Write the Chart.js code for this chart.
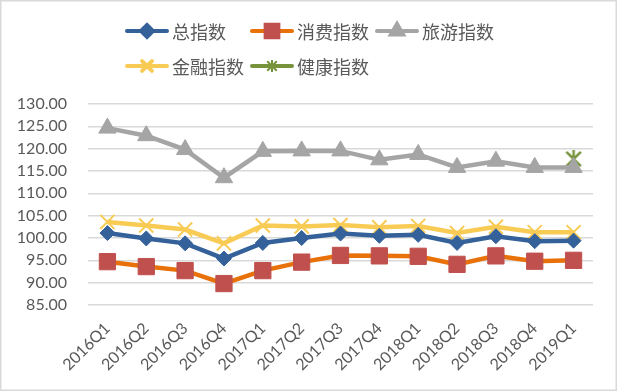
<!DOCTYPE html>
<html>
<head>
<meta charset="utf-8">
<script src="https://cdn.jsdelivr.net/npm/chart.js"></script>
<style>
  html, body { margin: 0; padding: 0; background: #fff; }
  #wrap { width: 617px; height: 391px; }
</style>
</head>
<body>
<div id="wrap"><canvas id="chart" width="617" height="391"></canvas></div>
<script>
const quarters = ["2016Q1", "2016Q2", "2016Q3", "2016Q4", "2017Q1", "2017Q2", "2017Q3",
  "2017Q4", "2018Q1", "2018Q2", "2018Q3", "2018Q4", "2019Q1"];
const totalIndex = [101.1, 99.9, 98.8, 95.4, 98.9, 100.0, 101.0, 100.5, 100.7, 98.9, 100.4, 99.3, 99.4];
const consumeIndex = [94.7, 93.6, 92.7, 89.8, 92.7, 94.6, 96.1, 96.0, 95.9, 94.1, 96.0, 94.8, 95.0];
const travelIndex = [124.6, 122.9, 119.8, 113.5, 119.4, 119.5, 119.5, 117.5, 118.7, 115.8, 117.2, 115.8, 115.8];
const financeIndex = [103.6, 102.8, 101.9, 98.8, 102.8, 102.6, 102.9, 102.4, 102.7, 101.1, 102.5, 101.3, 101.3];
const healthIndex = [null, null, null, null, null, null, null, null, null, null, null, null, 117.7];
const yTicks = [85, 90, 95, 100, 105, 110, 115, 120, 125, 130];

const textColor = "#595959";

// excel style star marker: an X with a vertical bar through it
function starMarker(size, color, lw) {
  const c = document.createElement("canvas");
  c.width = size;
  c.height = size;
  const g = c.getContext("2d");
  const h = size / 2;
  const r = h - 1;
  g.strokeStyle = color;
  g.lineWidth = lw;
  g.beginPath();
  g.moveTo(h - r * 0.8, h - r * 0.8);
  g.lineTo(h + r * 0.8, h + r * 0.8);
  g.moveTo(h + r * 0.8, h - r * 0.8);
  g.lineTo(h - r * 0.8, h + r * 0.8);
  g.moveTo(h, h - r);
  g.lineTo(h, h + r);
  g.stroke();
  return c;
}

const healthStar = starMarker(20, "#77933c", 2.5);
const healthStarSmall = starMarker(14, "#77933c", 2);

const legendSlots = [
  { x: 147, y: 31 }, { x: 272, y: 31 }, { x: 397, y: 31 },
  { x: 147, y: 66 }, { x: 272, y: 66 }
];

const frameAndLegend = {
  id: "frameAndLegend",
  beforeDraw(chart) {
    const ctx = chart.ctx;
    ctx.save();
    ctx.fillStyle = "#fff";
    ctx.fillRect(0, 0, chart.width, chart.height);
    ctx.strokeStyle = "#d9d9d9";
    ctx.lineWidth = 1.5;
    ctx.strokeRect(0.75, 0.75, chart.width - 1.5, chart.height - 1.5);
    ctx.restore();
  },
  afterDraw(chart) {
    const ctx = chart.ctx;
    chart.data.datasets.forEach((ds, i) => {
      const slot = legendSlots[i];
      ctx.save();
      ctx.strokeStyle = ds.borderColor;
      ctx.lineWidth = 4;
      ctx.lineCap = "round";
      ctx.beginPath();
      ctx.moveTo(slot.x - 20, slot.y);
      ctx.lineTo(slot.x + 20, slot.y);
      ctx.stroke();
      ctx.fillStyle = ds.pointBackgroundColor;
      ctx.strokeStyle = ds.pointBorderColor;
      Chart.helpers.drawPoint(ctx, {
        pointStyle: ds.legendStyle || ds.pointStyle,
        radius: ds.legendRadius,
        rotation: 0,
        borderWidth: ds.pointBorderWidth
      }, slot.x, slot.y);
      ctx.fillStyle = textColor;
      ctx.font = "18px 'Noto Sans CJK SC'";
      ctx.textBaseline = "middle";
      ctx.textAlign = "left";
      ctx.fillText(ds.label, slot.x + 25, slot.y + 1);
      ctx.restore();
    });
  }
};

new Chart(document.getElementById("chart"), {
  type: "line",
  data: {
    labels: quarters,
    datasets: [
      {
        label: "总指数",
        data: totalIndex,
        borderColor: "#35619a",
        borderWidth: 4.5,
        pointStyle: "rectRot",
        pointRadius: 7.5,
        legendRadius: 6,
        pointBackgroundColor: "#35619a",
        pointBorderColor: "#35619a",
        pointBorderWidth: 1
      },
      {
        label: "消费指数",
        data: consumeIndex,
        borderColor: "#e8710a",
        borderWidth: 4.5,
        pointStyle: "rect",
        pointRadius: 11.5,
        legendRadius: 9,
        pointBackgroundColor: "#c0504d",
        pointBorderColor: "#c0504d",
        pointBorderWidth: 1
      },
      {
        label: "旅游指数",
        data: travelIndex,
        borderColor: "#a5a5a5",
        borderWidth: 4.5,
        pointStyle: "triangle",
        pointRadius: 10,
        legendRadius: 7,
        pointBackgroundColor: "#a5a5a5",
        pointBorderColor: "#a5a5a5",
        pointBorderWidth: 1
      },
      {
        label: "金融指数",
        data: financeIndex,
        borderColor: "#f8cb55",
        borderWidth: 4.5,
        pointStyle: "crossRot",
        pointRadius: 10,
        legendRadius: 7,
        pointBackgroundColor: "#f8cb55",
        pointBorderColor: "#f8cb55",
        pointBorderWidth: 2
      },
      {
        label: "健康指数",
        data: healthIndex,
        borderColor: "#77933c",
        borderWidth: 4.5,
        pointStyle: healthStar,
        legendStyle: healthStarSmall,
        pointRadius: 10,
        legendRadius: 7,
        pointBackgroundColor: "#77933c",
        pointBorderColor: "#77933c",
        pointBorderWidth: 2.5
      }
    ]
  },
  options: {
    responsive: false,
    animation: false,
    layout: { padding: { top: 104, right: 24, left: 0, bottom: 0 } },
    plugins: {
      legend: { display: false },
      tooltip: { enabled: false }
    },
    elements: { line: { tension: 0 } },
    scales: {
      x: {
        offset: true,
        grid: { display: false },
        border: { display: false },
        ticks: {
          color: textColor,
          font: { family: "Lato", size: 16 },
          minRotation: 45,
          maxRotation: 45,
          padding: 6,
          autoSkip: false
        },
        afterFit(scale) { scale.height = 86; }
      },
      y: {
        min: 85,
        max: 130,
        border: { display: false },
        grid: { color: "#d9d9d9", lineWidth: 1.5, drawTicks: false },
        afterBuildTicks(scale) { scale.ticks = yTicks.map(v => ({ value: v })); },
        ticks: {
          color: textColor,
          font: { family: "Lato", size: 16 },
          padding: 21,
          callback: v => Number(v).toFixed(2)
        },
        afterFit(scale) { scale.width = 88; }
      }
    }
  },
  plugins: [frameAndLegend]
});
</script>
</body>
</html>
